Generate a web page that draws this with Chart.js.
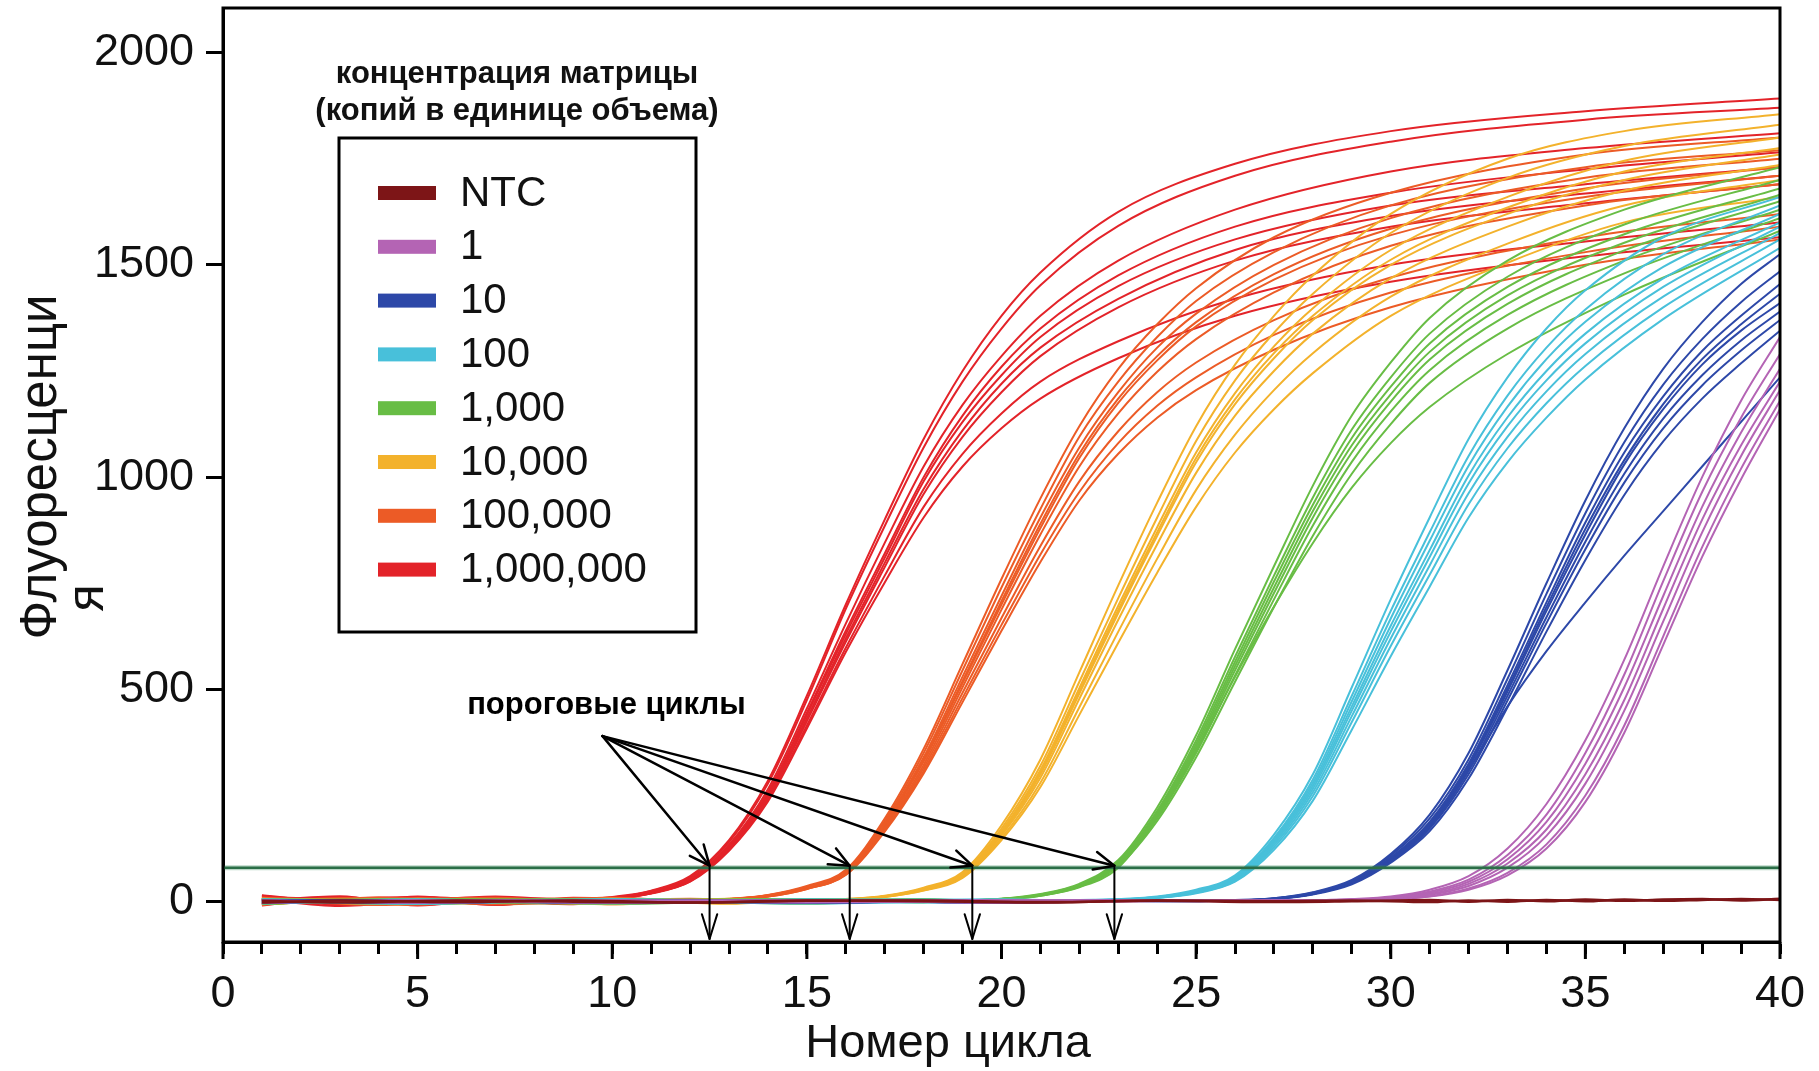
<!DOCTYPE html>
<html>
<head>
<meta charset="utf-8">
<title>Кривые амплификации</title>
<script src="https://cdn.jsdelivr.net/npm/chart.js@4.4.1/dist/chart.umd.min.js"></script>
<style>
  html, body { margin: 0; padding: 0; background: #fff; }
  #wrap { width: 1819px; height: 1071px; }
</style>
</head>
<body>
<div id="wrap"><canvas id="pcr" width="1819" height="1071"></canvas></div>
<script>
// Amplification curves: one cycle grid per group,
// one row of fluorescence values per well.
const ntcCycles = [1, 3, 6, 9, 12, 15, 18, 21, 24, 27, 29, 31, 32, 33, 34, 35, 36, 37, 38, 39, 40];
const ntcCurves = [
    [2, -2, 3, 0, -2, 3, 1, -2, 3, 1, 3, -1, 3, 0, 4, 1, 5, 2, 4, 6, 4],
    [-2, 3, -1, 3, -2, 2, 3, -1, 2, -1, 1, 4, 0, 4, 1, 5, 2, 5, 6, 3, 7]
];

const purpleCycles = [1, 5, 10, 15, 20, 25, 28, 29, 30, 31, 32, 33, 34, 35, 36, 37, 38, 39, 40];
const purpleCurves = [
    [3, -2, 3, -1, 3, 2, 3, 6, 12, 28, 60, 125, 230, 380, 570, 790, 1000, 1180, 1330],
    [-2, 3, 1, 3, -2, 3, 3, 5, 10, 24, 52, 110, 205, 350, 535, 755, 965, 1140, 1290],
    [3, -1, -2, 3, 3, 2, 3, 4, 9, 21, 47, 100, 188, 325, 505, 720, 930, 1105, 1255],
    [1, 3, 3, -2, 1, 3, 2, 4, 8, 18, 42, 90, 170, 300, 475, 690, 900, 1075, 1225],
    [-2, 2, 3, 3, -2, 2, 2, 3, 7, 16, 37, 80, 155, 278, 450, 660, 870, 1050, 1205],
    [3, -2, 2, 2, 3, 1, 2, 3, 6, 13, 31, 68, 135, 250, 415, 625, 835, 1020, 1180],
    [0, 3, -2, 0, 3, 3, 2, 3, 5, 12, 28, 62, 125, 235, 398, 605, 812, 995, 1160]
];

const blueCycles = [1, 5, 10, 15, 20, 24, 26, 27, 28, 29, 30, 31, 32, 33, 34, 35, 36, 37, 38, 39, 40];
const blueCurves = [
    [4, -3, 4, -2, 3, 2, 4, 8, 22, 51, 112, 205, 350, 545, 750, 945, 1115, 1255, 1365, 1455, 1525],
    [-3, 4, -2, 4, 1, 3, 3, 8, 21, 49, 108, 196, 335, 525, 725, 915, 1082, 1218, 1325, 1412, 1485],
    [4, 1, 3, -3, 4, 1, 3, 7, 20, 47, 104, 188, 325, 510, 705, 893, 1058, 1190, 1297, 1380, 1455],
    [-2, 4, -3, 3, -2, 4, 3, 7, 19, 46, 102, 184, 320, 502, 694, 878, 1040, 1172, 1278, 1360, 1432],
    [3, -3, 4, 1, 4, 2, 3, 7, 19, 45, 100, 180, 315, 495, 685, 865, 1030, 1160, 1265, 1345, 1410],
    [4, 2, -3, 4, 0, 4, 3, 6, 18, 44, 97, 176, 308, 485, 670, 848, 1008, 1138, 1240, 1322, 1390],
    [-3, 4, 2, -2, 3, 2, 2, 6, 18, 43, 95, 172, 300, 474, 656, 830, 987, 1115, 1216, 1298, 1370],
    [1, -2, 4, 4, -3, 3, 2, 6, 17, 41, 92, 166, 290, 458, 636, 805, 958, 1084, 1185, 1268, 1345],
    [4, 3, -3, 3, 4, 1, 3, 7, 19, 45, 100, 180, 310, 460, 590, 705, 815, 920, 1025, 1130, 1235]
];

const cyanCycles = [1, 5, 10, 15, 20, 22, 23, 24, 25, 26, 27, 28, 29, 30, 31, 32, 33, 34, 35, 37, 40];
const cyanCurves = [
    [5, -4, 5, -2, 4, 3, 6, 12, 28, 62, 158, 300, 505, 712, 905, 1090, 1235, 1350, 1440, 1565, 1660],
    [-4, 5, -3, 5, 0, 4, 5, 11, 26, 59, 150, 288, 485, 685, 870, 1050, 1192, 1305, 1395, 1525, 1640],
    [5, 2, 4, -4, 5, 3, 5, 11, 25, 57, 146, 280, 472, 667, 850, 1027, 1166, 1278, 1366, 1495, 1620],
    [0, -5, 5, 3, -3, 3, 5, 10, 24, 55, 142, 273, 460, 650, 828, 1004, 1141, 1250, 1338, 1468, 1600],
    [-4, 4, -1, 5, 4, 2, 4, 10, 23, 53, 138, 266, 450, 636, 812, 985, 1120, 1228, 1315, 1448, 1590],
    [5, -3, 3, -4, 1, 3, 4, 9, 22, 51, 133, 258, 437, 620, 792, 962, 1095, 1202, 1290, 1425, 1575],
    [2, 5, -4, 4, 5, 2, 4, 9, 21, 49, 128, 249, 423, 602, 770, 936, 1068, 1174, 1262, 1400, 1560],
    [-2, 3, 5, 1, -3, 3, 4, 9, 20, 47, 122, 238, 405, 578, 742, 905, 1035, 1140, 1230, 1372, 1540]
];

const greenCycles = [1, 5, 10, 15, 18, 19, 20, 21, 22, 23, 24, 25, 26, 27, 28, 29, 30, 31, 33, 36, 40];
const greenCurves = [
    [6, -4, 5, -2, 5, 4, 7, 18, 42, 98, 222, 392, 595, 790, 980, 1145, 1270, 1375, 1510, 1630, 1730],
    [-5, 6, -3, 6, 1, 3, 7, 17, 40, 94, 214, 380, 577, 768, 952, 1112, 1235, 1338, 1472, 1595, 1700],
    [6, 2, 6, -4, 4, 3, 6, 16, 39, 92, 210, 372, 565, 754, 935, 1092, 1213, 1315, 1448, 1572, 1680],
    [1, -5, 4, 6, -2, 3, 6, 16, 38, 90, 205, 365, 555, 740, 920, 1075, 1195, 1295, 1428, 1552, 1665],
    [-3, 5, 6, -5, 5, 2, 6, 15, 37, 88, 200, 358, 545, 727, 905, 1058, 1178, 1277, 1408, 1534, 1650],
    [5, -2, -5, 4, 6, 3, 6, 15, 36, 86, 196, 350, 533, 712, 886, 1036, 1155, 1252, 1382, 1510, 1630],
    [-5, 6, 2, 6, -1, 2, 5, 14, 35, 84, 190, 340, 518, 694, 862, 1008, 1125, 1222, 1350, 1480, 1610],
    [4, 6, -4, 1, 5, 3, 5, 14, 34, 80, 200, 355, 530, 695, 845, 975, 1080, 1165, 1290, 1430, 1580]
];

const yellowCycles = [1, 5, 10, 13, 15, 16, 17, 18, 19, 20, 21, 22, 23, 24, 25, 26, 27, 28, 30, 33, 36, 40];
const yellowCurves = [
    [6, -5, 7, -3, 4, 6, 14, 33, 70, 180, 335, 540, 745, 940, 1120, 1265, 1380, 1475, 1620, 1750, 1815, 1855],
    [-6, 7, -2, 6, 1, 6, 13, 31, 66, 172, 320, 518, 715, 905, 1085, 1228, 1340, 1432, 1575, 1705, 1780, 1830],
    [7, 1, 5, -5, 5, 5, 13, 30, 64, 166, 310, 503, 697, 882, 1058, 1198, 1308, 1398, 1535, 1660, 1745, 1800],
    [2, -6, 7, 3, -1, 5, 12, 29, 63, 162, 304, 495, 687, 870, 1045, 1183, 1292, 1380, 1512, 1635, 1720, 1775],
    [-4, 6, -5, 7, 3, 5, 12, 29, 62, 160, 300, 490, 680, 862, 1035, 1172, 1280, 1370, 1500, 1620, 1700, 1760],
    [7, 3, 4, -4, 6, 5, 12, 28, 60, 156, 292, 478, 664, 842, 1010, 1145, 1250, 1338, 1468, 1590, 1675, 1735],
    [-1, 7, -6, 5, 2, 4, 11, 27, 58, 150, 280, 458, 636, 808, 970, 1100, 1205, 1292, 1425, 1550, 1640, 1700],
    [5, -3, 6, 1, -2, 4, 11, 26, 56, 145, 270, 440, 610, 775, 930, 1058, 1160, 1245, 1380, 1505, 1600, 1660]
];

const orangeCycles = [1, 4, 7, 10, 12, 13, 14, 15, 16, 17, 18, 19, 20, 21, 22, 23, 24, 25, 27, 30, 35, 40];
const orangeCurves = [
    [8, -5, 7, -3, 5, 7, 16, 37, 75, 196, 360, 560, 760, 950, 1120, 1255, 1360, 1445, 1565, 1670, 1760, 1800],
    [-7, 8, -4, 6, 2, 6, 15, 35, 72, 190, 350, 545, 740, 925, 1095, 1225, 1330, 1415, 1530, 1640, 1730, 1770],
    [3, 9, -6, 1, 6, 6, 15, 34, 70, 185, 340, 530, 720, 905, 1070, 1200, 1305, 1385, 1500, 1610, 1705, 1750],
    [9, -3, 5, 8, -2, 6, 14, 33, 69, 182, 334, 520, 708, 890, 1055, 1185, 1285, 1365, 1478, 1585, 1680, 1730],
    [-5, 4, 9, -6, 4, 6, 14, 33, 68, 180, 330, 515, 700, 880, 1045, 1175, 1275, 1355, 1465, 1570, 1660, 1710],
    [7, -8, 2, 5, 7, 5, 13, 32, 66, 176, 322, 505, 688, 865, 1025, 1150, 1248, 1325, 1435, 1545, 1640, 1690],
    [0, 9, -5, 7, 1, 5, 13, 31, 65, 172, 315, 492, 668, 838, 990, 1108, 1200, 1270, 1370, 1470, 1565, 1620],
    [9, 2, 8, -4, 3, 5, 12, 30, 64, 168, 308, 480, 652, 818, 965, 1080, 1168, 1235, 1335, 1435, 1530, 1590],
    [-6, 5, 0, 9, 2, 5, 12, 30, 63, 165, 302, 470, 638, 800, 945, 1055, 1140, 1205, 1300, 1400, 1500, 1560]
];

const redCycles = [1, 3, 5, 7, 9, 10, 11, 12, 13, 14, 15, 16, 17, 18, 19, 20, 21, 23, 26, 30, 35, 40];
const redCurves = [
    [12, 4, -8, 7, 3, 11, 26, 60, 145, 285, 485, 700, 900, 1090, 1250, 1380, 1482, 1625, 1738, 1815, 1862, 1892],
    [-6, 9, 5, -7, 8, 10, 25, 58, 140, 278, 475, 690, 885, 1070, 1225, 1350, 1452, 1592, 1710, 1790, 1842, 1870],
    [14, -4, 10, 2, -5, 9, 23, 54, 134, 265, 455, 655, 845, 1025, 1170, 1285, 1380, 1510, 1630, 1720, 1775, 1810],
    [-9, 11, -3, 9, 6, 9, 22, 53, 132, 258, 445, 638, 820, 1000, 1145, 1260, 1350, 1475, 1590, 1670, 1725, 1765],
    [8, -7, 12, -4, 1, 9, 22, 52, 130, 255, 440, 630, 810, 990, 1130, 1240, 1330, 1450, 1560, 1640, 1690, 1730],
    [3, 13, -9, 6, -2, 8, 21, 50, 127, 250, 432, 620, 798, 972, 1110, 1220, 1305, 1420, 1535, 1615, 1668, 1710],
    [15, 0, 6, -8, 9, 8, 20, 49, 124, 245, 425, 612, 788, 960, 1095, 1200, 1285, 1400, 1510, 1590, 1645, 1690],
    [-4, 7, 11, 3, -6, 7, 20, 48, 122, 240, 415, 598, 768, 930, 1055, 1150, 1225, 1320, 1420, 1500, 1555, 1600],
    [6, -10, 2, 12, 4, 6, 19, 47, 120, 236, 408, 588, 752, 905, 1025, 1115, 1185, 1280, 1380, 1460, 1520, 1565]
];

const groupNames = ['NTC', '1', '10', '100', '1,000', '10,000', '100,000', '1,000,000'];
const groupColors = ['#7d1517', '#b464b4', '#2d48a8', '#48c0da', '#68bd45', '#f3b22c', '#ec5b26', '#e32329'];

const thresholdValue = 80;
const thresholdCycles = [12.5, 16.1, 19.25, 22.9];
const arrowOrigin = { x: 9.75, y: 390 };
const arrowLabel = { x: 9.85, y: 463, text: 'пороговые циклы' };

const yTickValues = [0, 500, 1000, 1500, 2000];
const xLabelValues = [0, 5, 10, 15, 20, 25, 30, 35, 40];

const legendTitle = ['концентрация матрицы', '(копий в единице объема)'];
const xTitle = 'Номер цикла';
const yTitle = ['Флуоресценци', 'я'];

const FONT = "'Liberation Sans', Arial, sans-serif";

const groups = [
    { cycles: ntcCycles, curves: ntcCurves },
    { cycles: purpleCycles, curves: purpleCurves },
    { cycles: blueCycles, curves: blueCurves },
    { cycles: cyanCycles, curves: cyanCurves },
    { cycles: greenCycles, curves: greenCurves },
    { cycles: yellowCycles, curves: yellowCurves },
    { cycles: orangeCycles, curves: orangeCurves },
    { cycles: redCycles, curves: redCurves }
];

const datasets = [];
groups.forEach((group, gi) => {
    group.curves.forEach(values => {
        datasets.push({
            label: groupNames[gi],
            data: values.map((v, k) => ({ x: group.cycles[k], y: v })),
            borderColor: groupColors[gi],
            borderWidth: gi === 0 ? 2.5 : 2,
            pointRadius: 0,
            fill: false,
            cubicInterpolationMode: 'monotone'
        });
    });
});

function drawArrow(ctx, x0, y0, x1, y1, headLen, headAngle) {
    ctx.beginPath();
    ctx.moveTo(x0, y0);
    ctx.lineTo(x1, y1);
    ctx.stroke();
    const ang = Math.atan2(y1 - y0, x1 - x0);
    ctx.beginPath();
    ctx.moveTo(x1 - headLen * Math.cos(ang - headAngle), y1 - headLen * Math.sin(ang - headAngle));
    ctx.lineTo(x1, y1);
    ctx.lineTo(x1 - headLen * Math.cos(ang + headAngle), y1 - headLen * Math.sin(ang + headAngle));
    ctx.stroke();
}

const overlayPlugin = {
    id: 'overlay',
    afterDatasetsDraw(chart) {
        const { ctx, chartArea: a, scales: { x, y } } = chart;
        const ty = y.getPixelForValue(thresholdValue);

        // threshold line
        ctx.save();
        ctx.beginPath();
        ctx.rect(a.left, a.top, a.right - a.left, a.bottom - a.top);
        ctx.clip();
        ctx.strokeStyle = 'rgba(60, 140, 95, 0.35)';
        ctx.lineWidth = 5;
        ctx.beginPath();
        ctx.moveTo(a.left, ty);
        ctx.lineTo(a.right, ty);
        ctx.stroke();
        ctx.strokeStyle = '#2b6e47';
        ctx.lineWidth = 2.5;
        ctx.beginPath();
        ctx.moveTo(a.left, ty);
        ctx.lineTo(a.right, ty);
        ctx.stroke();
        ctx.restore();

        // threshold-cycle arrows
        ctx.save();
        ctx.strokeStyle = '#000';
        ctx.lineCap = 'round';
        ctx.lineJoin = 'round';
        const ox = x.getPixelForValue(arrowOrigin.x);
        const oy = y.getPixelForValue(arrowOrigin.y);
        thresholdCycles.forEach(ct => {
            const cx = x.getPixelForValue(ct);
            ctx.lineWidth = 2.5;
            drawArrow(ctx, ox, oy, cx, ty - 2, 22, 0.42);
            ctx.lineWidth = 2;
            drawArrow(ctx, cx, ty, cx, a.bottom - 3, 26, 0.3);
        });
        ctx.fillStyle = '#000';
        ctx.font = 'bold 31px ' + FONT;
        ctx.textAlign = 'center';
        ctx.textBaseline = 'middle';
        ctx.fillText(arrowLabel.text, x.getPixelForValue(arrowLabel.x), y.getPixelForValue(arrowLabel.y));
        ctx.restore();
    },
    afterDraw(chart) {
        const { ctx, chartArea: a, scales: { x } } = chart;
        ctx.save();

        // plot frame
        ctx.strokeStyle = '#000';
        ctx.lineWidth = 3;
        ctx.strokeRect(a.left, a.top, a.right - a.left, a.bottom - a.top);

        // longer ticks every 5 cycles
        ctx.beginPath();
        xLabelValues.forEach(v => {
            const px = x.getPixelForValue(v);
            ctx.moveTo(px, a.bottom);
            ctx.lineTo(px, a.bottom + 17);
        });
        ctx.stroke();

        // legend
        const box = { left: 339, top: 138, right: 696, bottom: 632 };
        ctx.fillStyle = '#fff';
        ctx.fillRect(box.left, box.top, box.right - box.left, box.bottom - box.top);
        ctx.strokeRect(box.left, box.top, box.right - box.left, box.bottom - box.top);
        ctx.fillStyle = '#111';
        ctx.font = 'bold 31px ' + FONT;
        ctx.textAlign = 'center';
        ctx.textBaseline = 'middle';
        ctx.fillText(legendTitle[0], 517, 74);
        ctx.fillText(legendTitle[1], 517, 111);
        ctx.font = '42px ' + FONT;
        ctx.textAlign = 'left';
        groupNames.forEach((name, i) => {
            const cy = 193 + i * 53.8;
            ctx.fillStyle = groupColors[i];
            ctx.fillRect(378, cy - 7, 58, 14);
            ctx.fillStyle = '#111';
            ctx.fillText(name, 460, cy + 1);
        });

        // axis titles
        ctx.font = '47px ' + FONT;
        ctx.textAlign = 'center';
        ctx.fillText(xTitle, 948, 1044);
        ctx.font = '51px ' + FONT;
        ctx.save();
        ctx.translate(42, 467);
        ctx.rotate(-Math.PI / 2);
        ctx.fillText(yTitle[0], 0, 0);
        ctx.restore();
        ctx.save();
        ctx.translate(89, 598);
        ctx.rotate(-Math.PI / 2);
        ctx.fillText(yTitle[1], 0, 0);
        ctx.restore();

        ctx.restore();
    }
};

Chart.defaults.font.family = FONT;
Chart.defaults.color = '#111';

new Chart(document.getElementById('pcr'), {
    type: 'line',
    data: { datasets },
    options: {
        responsive: false,
        animation: false,
        devicePixelRatio: 1,
        layout: { padding: { top: 8, right: 39, left: 0, bottom: 0 } },
        plugins: {
            legend: { display: false },
            tooltip: { enabled: false }
        },
        scales: {
            x: {
                type: 'linear',
                min: 0,
                max: 40,
                afterFit: scale => {
                    scale.height = 129;
                    scale.paddingLeft = 0;
                    scale.paddingRight = 0;
                },
                border: { display: true, color: '#000', width: 3 },
                grid: {
                    drawOnChartArea: false,
                    tickLength: 12,
                    tickWidth: 3,
                    tickColor: '#000'
                },
                ticks: {
                    stepSize: 1,
                    autoSkip: false,
                    maxRotation: 0,
                    padding: 14,
                    font: { size: 45 },
                    color: '#111',
                    callback: v => (xLabelValues.includes(v) ? String(v) : '')
                }
            },
            y: {
                type: 'linear',
                min: -95,
                max: 2105,
                afterFit: scale => {
                    scale.width = 223;
                    scale.paddingTop = 0;
                    scale.paddingBottom = 0;
                },
                afterBuildTicks: scale => { scale.ticks = yTickValues.map(v => ({ value: v })); },
                border: { display: true, color: '#000', width: 3 },
                grid: {
                    drawOnChartArea: false,
                    tickLength: 17,
                    tickWidth: 3,
                    tickColor: '#000'
                },
                ticks: {
                    padding: 12,
                    font: { size: 45 },
                    color: '#111',
                    callback: v => String(v)
                }
            }
        }
    },
    plugins: [overlayPlugin]
});
</script>
</body>
</html>
